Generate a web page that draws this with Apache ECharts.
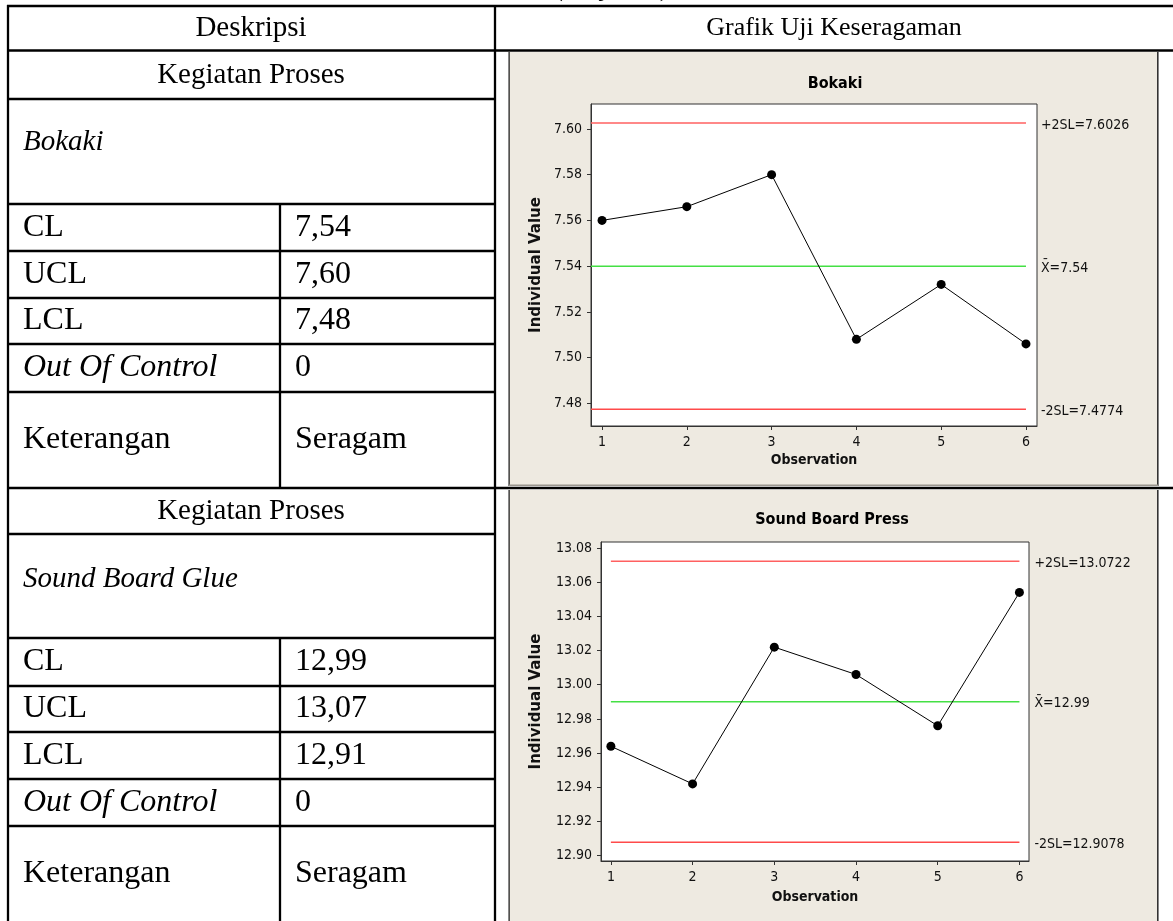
<!DOCTYPE html>
<html>
<head>
<meta charset="utf-8">
<script src="https://cdn.jsdelivr.net/npm/echarts@6/dist/echarts.min.js"></script>
<style>
  html, body { margin: 0; padding: 0; background: #fff; }
  #main { width: 1173px; height: 921px; }
</style>
</head>
<body>
<div id="main"></div>
<script>
// ---- data ----
const observations = [1, 2, 3, 4, 5, 6];

const bokakiTitle = 'Bokaki';
const bokakiValues = [7.560, 7.566, 7.580, 7.508, 7.532, 7.506];
const bokakiLimits = [7.6026, 7.54, 7.4774];          // +2SL, mean, -2SL
const bokakiLimitLabels = ['+2SL=7.6026', 'X\u0304=7.54', '-2SL=7.4774'];
const bokakiTicks = [7.48, 7.50, 7.52, 7.54, 7.56, 7.58, 7.60];

const soundTitle = 'Sound Board Press';
const soundValues = [12.964, 12.942, 13.022, 13.006, 12.976, 13.054];
const soundLimits = [13.0722, 12.99, 12.9078];
const soundLimitLabels = ['+2SL=13.0722', 'X\u0304=12.99', '-2SL=12.9078'];
const soundTicks = [12.90, 12.92, 12.94, 12.96, 12.98, 13.00, 13.02, 13.04, 13.06, 13.08];

// table text
const headerLeft = 'Deskripsi';
const headerRight = 'Grafik Uji Keseragaman';
const sectionLabel = 'Kegiatan Proses';
const processNames = ['Bokaki', 'Sound Board Glue'];
const rowLabels = ['CL', 'UCL', 'LCL', 'Out Of Control', 'Keterangan'];
const bokakiRowValues = ['7,54', '7,60', '7,48', '0', 'Seragam'];
const soundRowValues = ['12,99', '13,07', '12,91', '0', 'Seragam'];

// ---- layout ----
const SERIF = '"Liberation Serif", "Times New Roman", serif';
const SANS = '"DejaVu Sans Condensed", "DejaVu Sans", sans-serif';
const SANS_WIDE = '"DejaVu Sans", Verdana, sans-serif';
const LIMIT_COLORS = ['#ff6060', '#44e044', '#ff4a4a'];

const graphics = [];

function rect(x, y, w, h, fill, z) {
  graphics.push({ type: 'rect', shape: { x: x, y: y, width: w, height: h },
    style: { fill: fill }, z: z == null ? 50 : z, silent: true });
}
function hLine(x1, x2, y, t) { rect(x1, y - t / 2, x2 - x1, t, '#000'); }
function vLine(x, y1, y2, t) { rect(x - t / 2, y1, t, y2 - y1, '#000'); }
function text(str, x, y, opts) {
  opts = opts || {};
  graphics.push({ type: 'text', x: x, y: y, z: 60, silent: true,
    style: {
      text: str,
      fontFamily: opts.family || SERIF,
      fontSize: opts.size || 32,
      fontStyle: opts.italic ? 'italic' : 'normal',
      fontWeight: opts.bold ? 'bold' : 'normal',
      fill: opts.color || '#000',
      align: opts.align || 'left', textAlign: opts.align || 'left',
      verticalAlign: opts.valign || 'middle', textVerticalAlign: opts.valign || 'middle'
    } });
}

// chart panel backgrounds
rect(509, 52, 649, 434, '#eeeae1', -10);
rect(509, 490, 649, 431, '#eeeae1', -10);
// panel frames
rect(508.5, 52, 1.2, 434, '#111', 40);
rect(508.5, 490, 1.2, 431, '#111', 40);
rect(1157, 52, 1.6, 434, '#333', 40);
rect(1157, 490, 1.6, 431, '#333', 40);
rect(509, 484.5, 649, 1.5, '#9a968f', 40);

// table lines
const T = 2.3;
hLine(7, 1173, 6, T);
hLine(7, 1173, 50.5, T);
hLine(7, 1173, 488, T);
[99, 204, 251, 298, 344, 392, 534, 638, 686, 732, 779, 826].forEach(function (y) { hLine(7, 495, y, T); });
vLine(8, 5, 921, T);
vLine(495, 5, 921, T);
vLine(280, 204, 488, T);
vLine(280, 638, 921, T);

// heading above the table (continued)
text('(lanjutan)', 553, 2, { size: 30, valign: 'bottom' });

// header row
text(headerLeft, 251, 28, { size: 29, align: 'center' });
text(headerRight, 834, 28, { size: 26, align: 'center' });

// description cells
function section(top, name, values, rows) {
  text(sectionLabel, 251, top.label, { size: 29, align: 'center' });
  text(name, 23, top.name, { italic: true, size: 29 });
  rows.forEach(function (y, i) {
    text(rowLabels[i], 23, y, { italic: rowLabels[i] === 'Out Of Control' });
    text(values[i], 295, y);
  });
}
section({ label: 75, name: 142 }, processNames[0], bokakiRowValues, [228, 275, 321, 368, 440]);
section({ label: 511, name: 579 }, processNames[1], soundRowValues, [662, 709, 756, 803, 874]);

// chart titles
text(bokakiTitle, 835, 84, { family: SANS, size: 16, bold: true, align: 'center' });
text(soundTitle, 832, 520, { family: SANS, size: 16, bold: true, align: 'center' });

// ---- chart axes and series ----
const xRanges = [[0.87, 6.13], [0.879, 6.117]];

function xAxisFor(gi, gap) {
  return {
    gridIndex: gi, type: 'value', min: xRanges[gi][0], max: xRanges[gi][1],
    axisLine: { show: true, lineStyle: { color: '#333', width: 1 } },
    axisTick: { show: true, customValues: observations, length: 4, lineStyle: { color: '#333' } },
    axisLabel: { customValues: observations, margin: 9, fontFamily: SANS, fontSize: 14, color: '#111' },
    splitLine: { show: false },
    name: 'Observation', nameLocation: 'middle', nameGap: gap,
    nameTextStyle: { fontFamily: SANS, fontSize: 14, fontWeight: 'bold', color: '#111' }
  };
}
function yAxisFor(gi, min, max, ticks, gap) {
  return {
    gridIndex: gi, type: 'value', min: min, max: max,
    axisLine: { show: true, lineStyle: { color: '#333', width: 1 } },
    axisTick: { show: true, customValues: ticks, length: 4, lineStyle: { color: '#333' } },
    axisLabel: { customValues: ticks, margin: 9, fontFamily: SANS, fontSize: 14, color: '#111',
      formatter: function (v) { return v.toFixed(2); } },
    splitLine: { show: false },
    name: 'Individual Value', nameLocation: 'middle', nameRotate: 90, nameGap: gap,
    nameTextStyle: { fontFamily: SANS_WIDE, fontSize: 15, fontWeight: 'bold', color: '#111' }
  };
}
function limitSeries(gi, limits, labels, startX) {
  return limits.map(function (v, i) {
    return {
      type: 'line', xAxisIndex: gi, yAxisIndex: gi,
      data: [[startX, v], [observations[observations.length - 1], v]],
      symbol: 'none', silent: true, z: 3,
      lineStyle: { color: LIMIT_COLORS[i], width: 1.5 },
      endLabel: { show: true, formatter: labels[i], distance: 15, offset: [0, 2],
        fontFamily: SANS, fontSize: 14, color: '#111' }
    };
  });
}
function valueSeries(gi, values) {
  return {
    type: 'line', xAxisIndex: gi, yAxisIndex: gi, z: 5,
    data: observations.map(function (o, i) { return [o, values[i]]; }),
    symbol: 'circle', symbolSize: 9, showSymbol: true,
    itemStyle: { color: '#000' },
    lineStyle: { color: '#000', width: 1 }
  };
}

const option = {
  animation: false,
  backgroundColor: 'transparent',
  grid: [
    { left: 591, top: 104, width: 446, height: 322, show: true,
      backgroundColor: '#fff', borderColor: '#333', borderWidth: 1 },
    { left: 601, top: 542, width: 428, height: 319, show: true,
      backgroundColor: '#fff', borderColor: '#333', borderWidth: 1 }
  ],
  xAxis: [xAxisFor(0, 27), xAxisFor(1, 29)],
  yAxis: [yAxisFor(0, 7.4701, 7.6109, bokakiTicks, 47), yAxisFor(1, 12.8969, 13.0835, soundTicks, 57)],
  series: []
    .concat(limitSeries(0, bokakiLimits, bokakiLimitLabels, xRanges[0][0]))
    .concat([valueSeries(0, bokakiValues)])
    .concat(limitSeries(1, soundLimits, soundLimitLabels, observations[0]))
    .concat([valueSeries(1, soundValues)]),
  graphic: graphics
};

const chart = echarts.init(document.getElementById('main'), null, { renderer: 'canvas' });
chart.setOption(option);
</script>
</body>
</html>
